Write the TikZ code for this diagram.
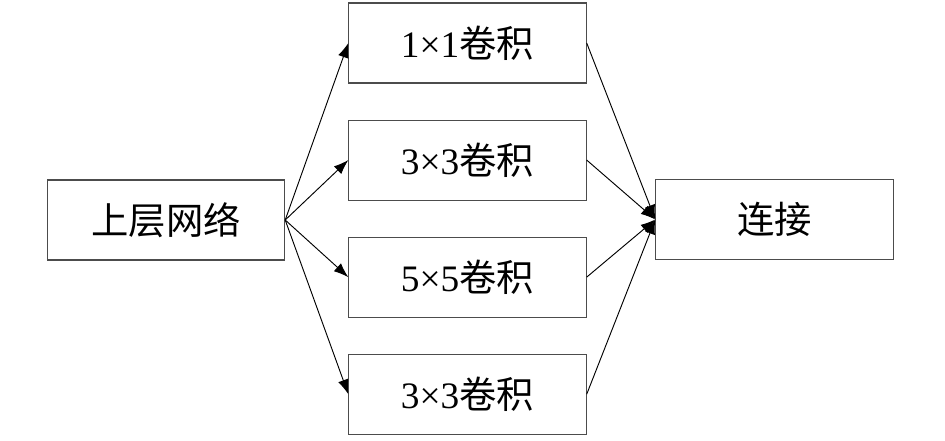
\documentclass[tikz,border=0pt]{standalone}
\usepackage{fontspec}
\setmainfont{Liberation Serif}
\newfontfamily\cjk{Noto Sans CJK SC}
\usetikzlibrary{positioning,arrows.meta}

\begin{document}
\begin{tikzpicture}[x=0.75pt, y=-0.75pt,
    box/.style={draw=black!70, line width=0.8pt, minimum width=178pt, minimum height=60pt, font=\fontsize{28}{30}\selectfont},
    link/.style={-{Latex[length=11pt,width=8pt]}, line width=0.7pt}]
    \useasboundingbox (0,0) rectangle (945,440);
    \node[box] (input) at (166,220) {\cjk 上层网络};
    \node[box] (conv1) at (467.5,43) {1×1\cjk 卷积};
    \node[box, below=27pt of conv1] (conv2) {3×3\cjk 卷积};
    \node[box, below=27pt of conv2] (conv3) {5×5\cjk 卷积};
    \node[box, below=27pt of conv3] (conv4) {3×3\cjk 卷积};
    \node[box] (concat) at (774.5,219.5) {\cjk 连接};
    \foreach \n in {conv1,conv2,conv3,conv4} {
        \draw[link] (input.east) -- (\n.west);
        \draw[link] (\n.east) -- (concat.west);
    }
\end{tikzpicture}
\end{document}
